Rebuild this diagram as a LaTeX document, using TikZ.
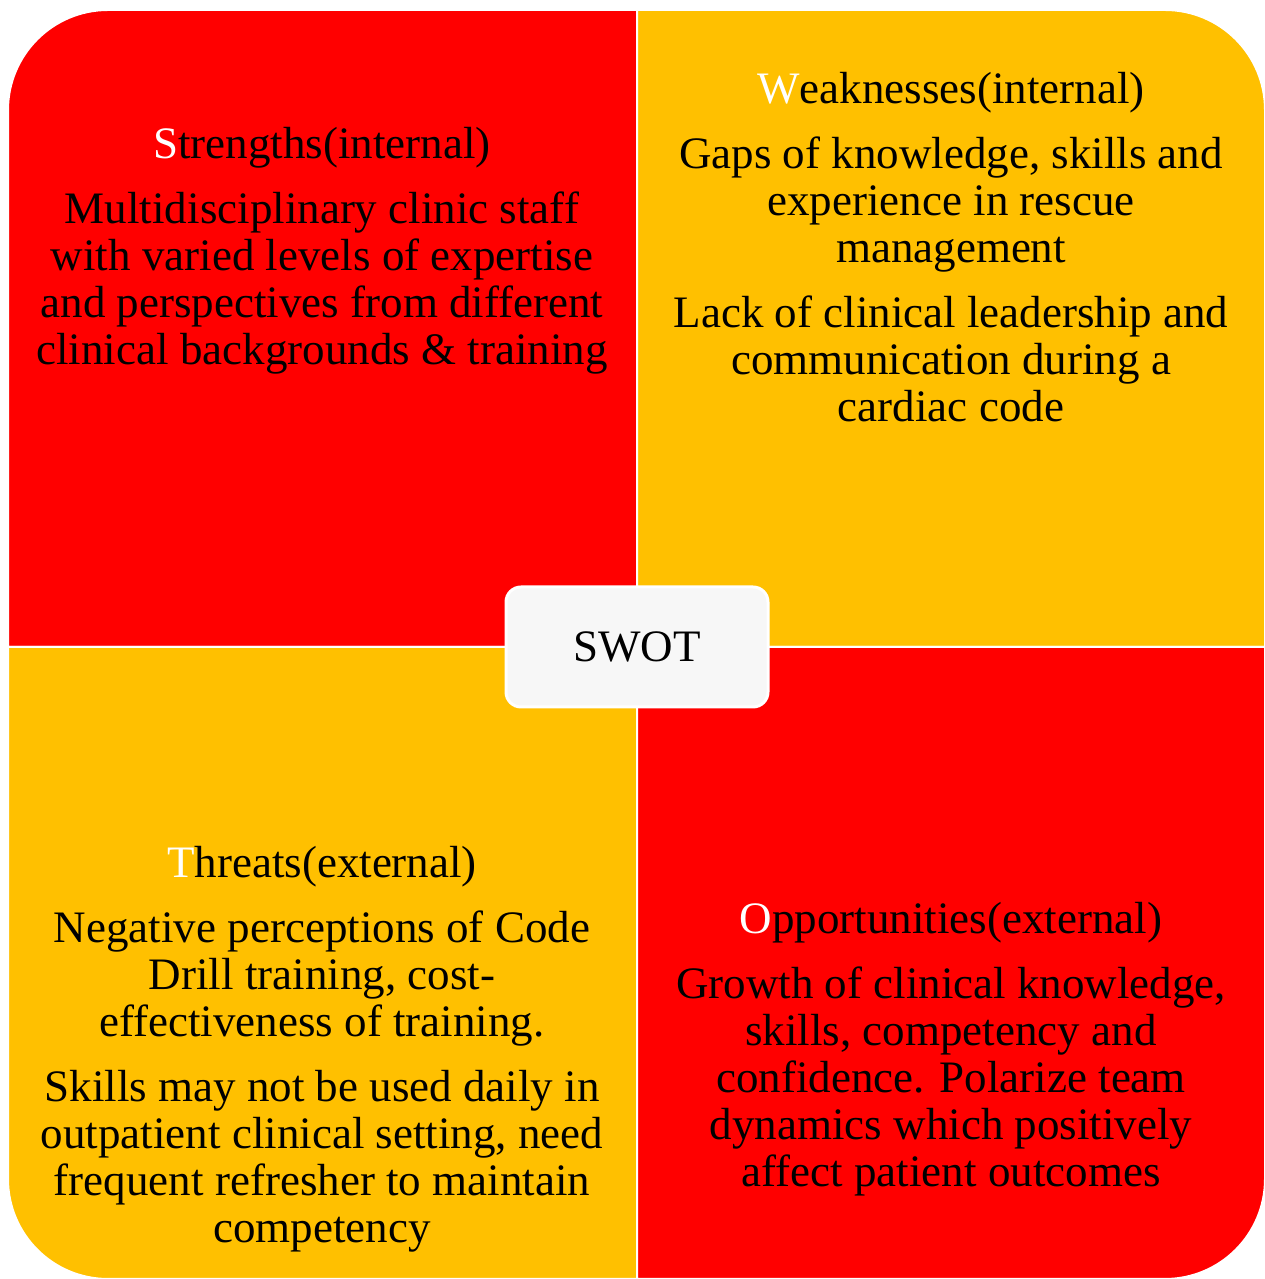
\documentclass[tikz,border=0pt]{standalone}
\usepackage{fontspec}
\setmainfont{Liberation Serif}
\usepackage{tikz}
\usetikzlibrary{positioning}
\definecolor{swotred}{HTML}{FF0000}
\definecolor{swotamber}{HTML}{FFC000}
\definecolor{swotgray}{HTML}{F7F7F7}
\tikzset{
    %Define style for quadrants
    quad/.style={
           draw=white,
           line width=2pt},
    %Define style for quadrant texts
    punkt/.style={
           anchor=base,
           align=center,
           inner sep=0pt,
           font=\fontsize{45}{47}\selectfont},
    %Define style for the centre box
    centre/.style={
           rectangle,
           rounded corners=15pt,
           draw=white, line width=3pt,
           fill=swotgray,
           minimum width=262pt,
           minimum height=120pt,
           font=\fontsize{45}{47}\selectfont,
           text centered}
}
\newcommand{\first}[1]{\textcolor{white}{#1}}

\begin{document}
\begin{tikzpicture}[x=1pt,y=1pt]
\useasboundingbox (0,0) rectangle (1265,1279);

 %quadrants
\filldraw[quad,fill=swotred] (637,632) -- (8,632) -- (8,1169) arc[start angle=180,end angle=90,radius=100] -- (637,1269) -- cycle;
\filldraw[quad,fill=swotamber] (637,632) -- (637,1269) -- (1165,1269) arc[start angle=90,end angle=0,radius=100] -- (1265,632) -- cycle;
\filldraw[quad,fill=swotamber] (8,632) -- (637,632) -- (637,0) -- (108,0) arc[start angle=270,end angle=180,radius=100] -- cycle;
\filldraw[quad,fill=swotred] (637,632) -- (1265,632) -- (1265,100) arc[start angle=0,end angle=-90,radius=100] -- (637,0) -- cycle;

 %nodes
\node[punkt] (1) at (322,914) {\first{S}trengths(internal)\\[18pt]
  Multidisciplinary clinic staff\\ with varied levels of expertise\\
  and perspectives from different\\ clinical backgrounds \& training};
\node[punkt] (2) at (951,857) {\first{W}eaknesses(internal)\\[18pt]
  Gaps of knowledge, skills and\\ experience in rescue\\ management\\[18pt]
  Lack of clinical leadership and\\ communication during a\\ cardiac code};
\node[punkt] (3) at (322,36) {\first{T}hreats(external)\\[18pt]
  Negative perceptions of Code\\ Drill training, cost-\\ effectiveness of training.\\[18pt]
  Skills may not be used daily in\\ outpatient clinical setting, need\\
  frequent refresher to maintain\\ competency};
\node[punkt] (4) at (951,92) {\first{O}pportunities(external)\\[18pt]
  Growth of clinical knowledge,\\ skills, competency and\\
  confidence. Polarize team\\ dynamics which positively\\ affect patient outcomes};
\node[centre] (5) at (637,632) {SWOT};

\end{tikzpicture}
\end{document}
